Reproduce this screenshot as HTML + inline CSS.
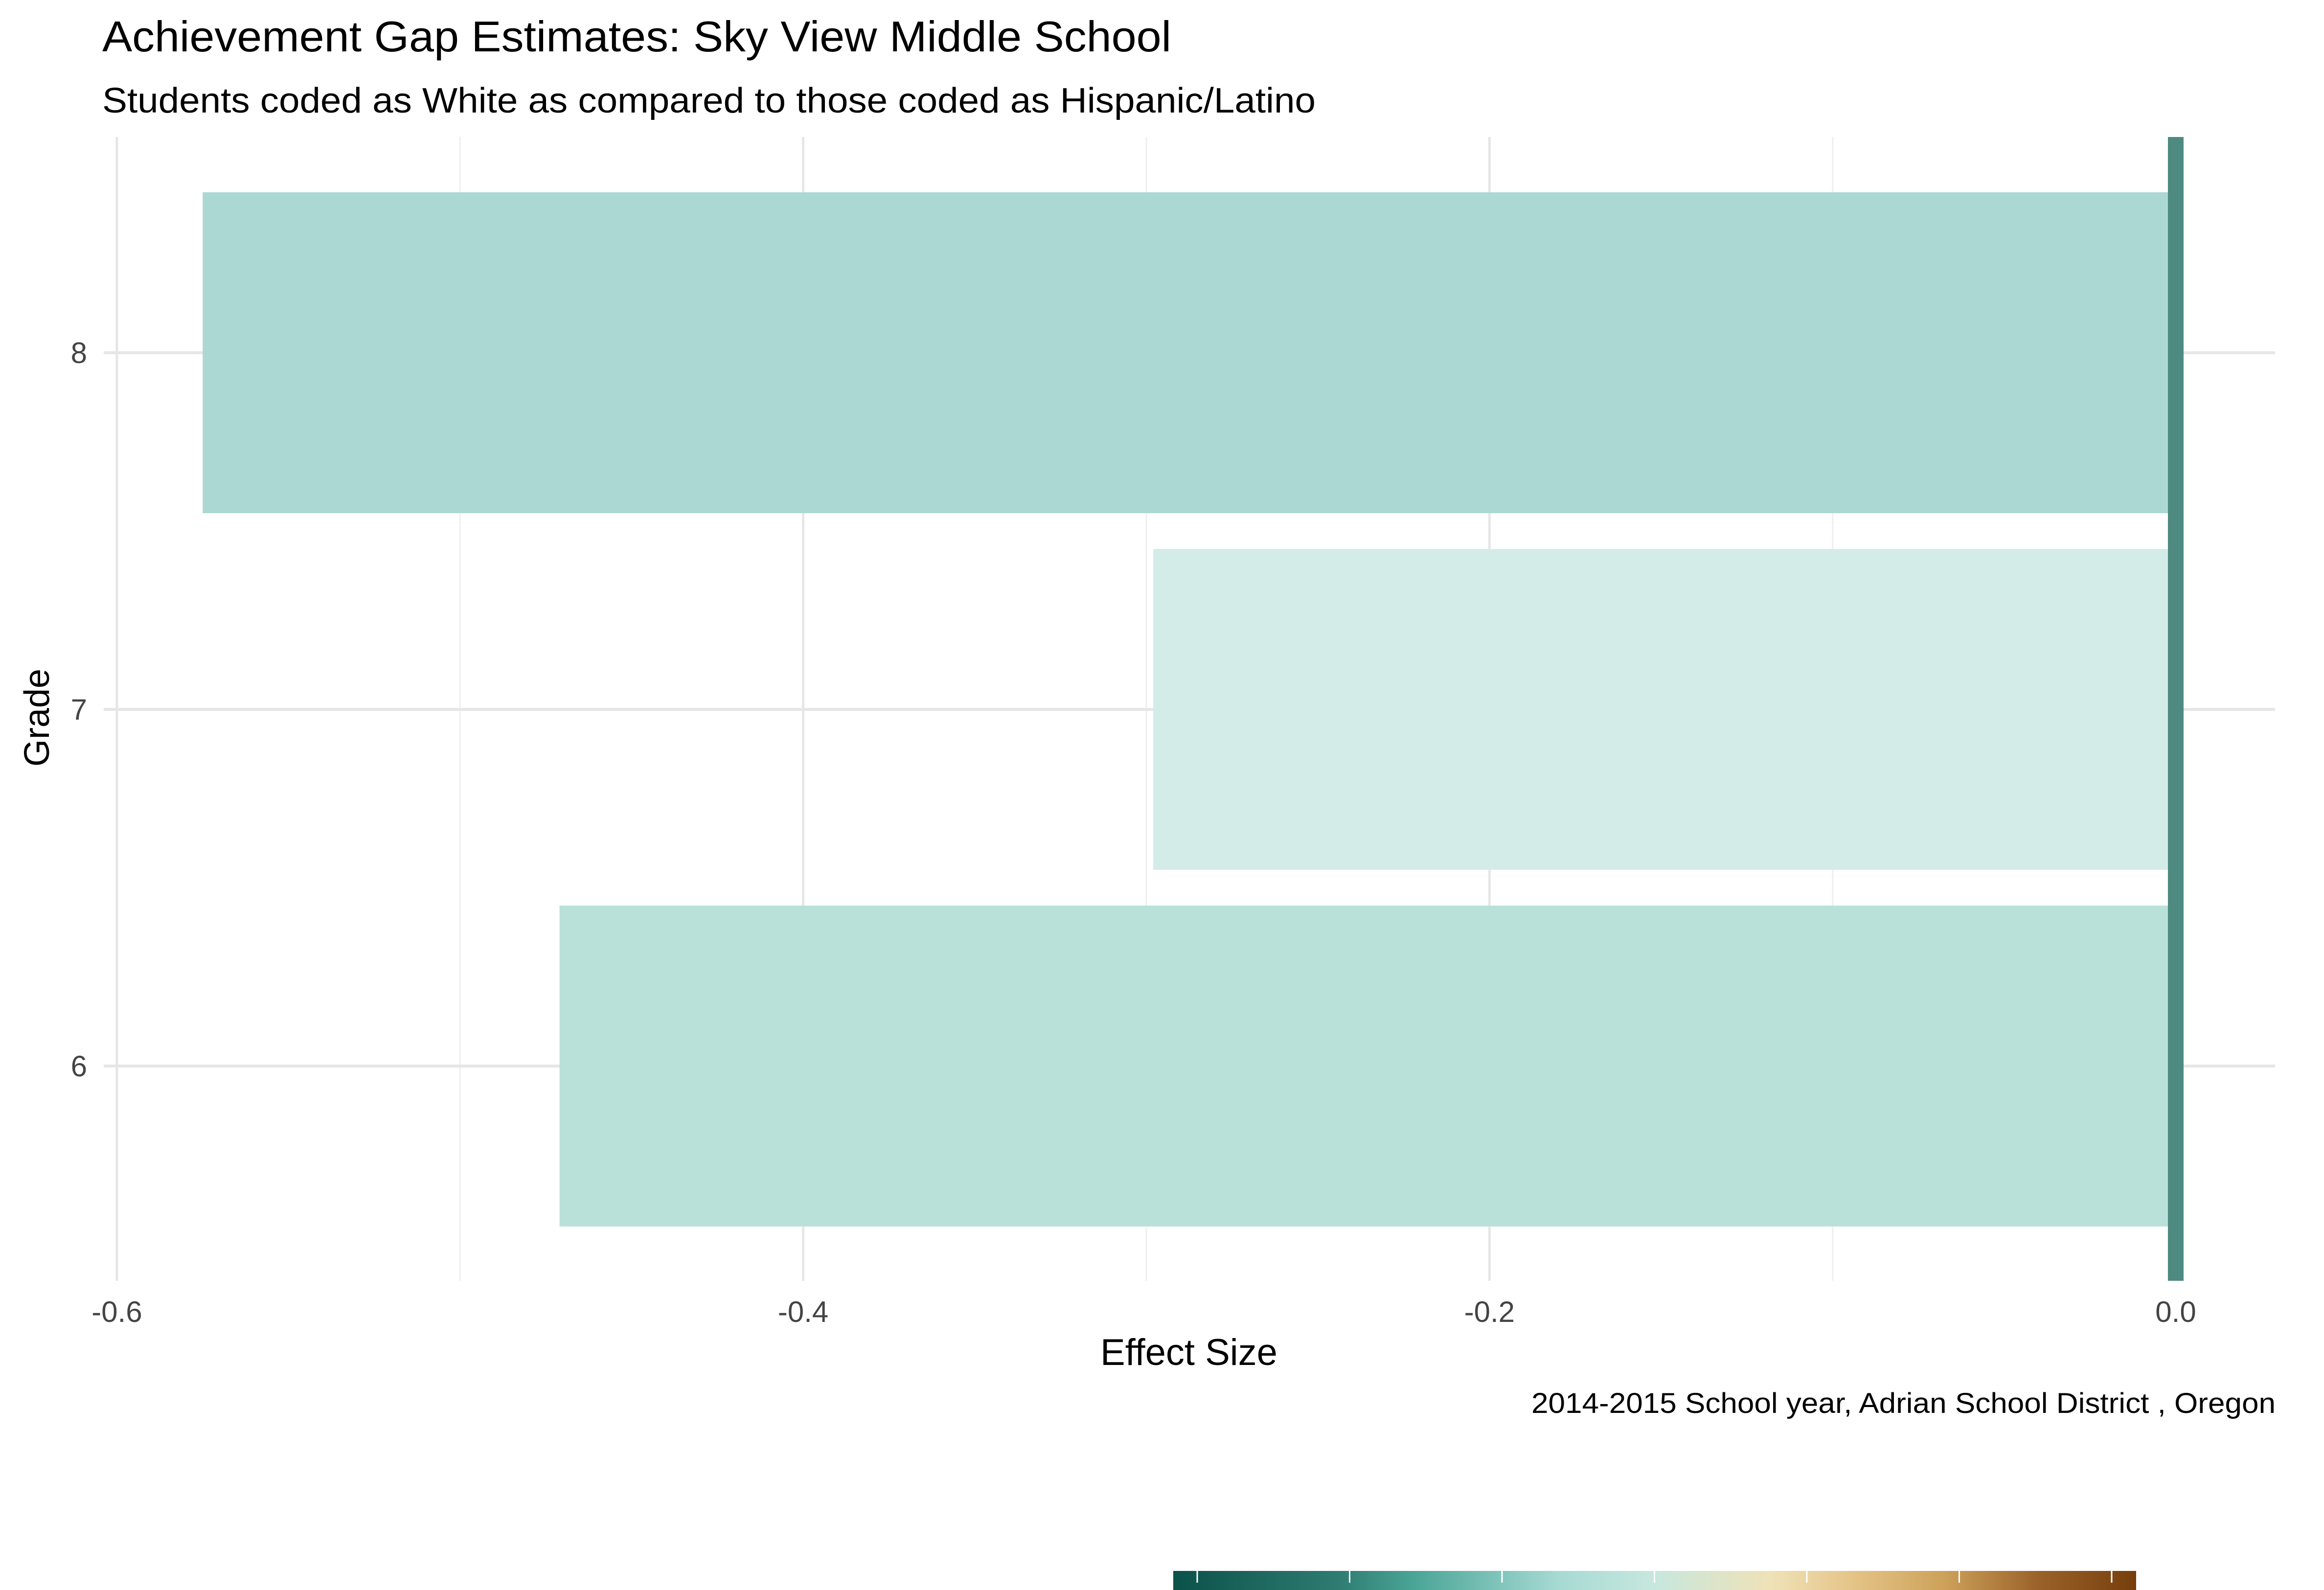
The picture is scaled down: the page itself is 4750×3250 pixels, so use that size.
<!DOCTYPE html>
<html><head><meta charset="utf-8"><style>html,body{margin:0;padding:0;background:#fff}svg{display:block}text{font-family:"Liberation Sans",sans-serif}</style></head>
<body>
<svg id="chart" width="4750" height="3250" viewBox="0 0 4750 3250" xmlns="http://www.w3.org/2000/svg">
<rect width="4750" height="3250" fill="#fff"/>
<text x="209" y="105" font-size="88" fill="#000" textLength="2185" lengthAdjust="spacingAndGlyphs">Achievement Gap Estimates: Sky View Middle School</text>
<text x="209" y="230" font-size="72" fill="#000" textLength="2480" lengthAdjust="spacingAndGlyphs">Students coded as White as compared to those coded as Hispanic/Latino</text>
<g id="grid"></g><g id="bars"></g><g id="axes"></g>
<text x="2430" y="2790" font-size="76" text-anchor="middle" fill="#000">Effect Size</text>
<text transform="translate(100,1467) rotate(-90)" font-size="72" text-anchor="middle" fill="#000">Grade</text>
<text x="3130" y="2888" font-size="58" fill="#000" textLength="1521" lengthAdjust="spacingAndGlyphs">2014-2015 School year,  Adrian School District , Oregon</text>
<defs><linearGradient id="brbg" x1="0" x2="1" y1="0" y2="0">
<stop offset="0" stop-color="#0b5249"/><stop offset="0.17" stop-color="#2e7b71"/><stop offset="0.25" stop-color="#4aa597"/><stop offset="0.4" stop-color="#a6dad3"/><stop offset="0.5" stop-color="#c7e7de"/><stop offset="0.62" stop-color="#efe2b7"/><stop offset="0.7" stop-color="#e6c68b"/><stop offset="0.8" stop-color="#cda25a"/><stop offset="0.9" stop-color="#9a6129"/><stop offset="1" stop-color="#763e0c"/></linearGradient></defs>
<rect x="2398" y="3211" width="1968" height="39" fill="url(#brbg)"/>
<g id="cbticks"></g>
</svg>
<script>
const grades = ["6","7","8"];
const effects = [-0.471, -0.298, -0.575];
const barColors = ["#b9e0d9","#d4ece7","#acd8d3"];
const xTicks = [-0.6,-0.4,-0.2,0.0];
const xTickLabels = ["-0.6","-0.4","-0.2","0.0"];
const xMinor = [-0.5,-0.3,-0.1];
const cbTicks = [0,1,2,3,4,5,6];

const NS="http://www.w3.org/2000/svg";
const xs = v => 4447 + v*7013.5;
const ys = i => 2179 - i*729;
const pTop=280, pBot=2618, pLeft=212, pRight=4650;
function mk(tag, attrs, parent){const e=document.createElementNS(NS,tag);for(const k in attrs)e.setAttribute(k,attrs[k]);parent.appendChild(e);return e;}
const grid=document.getElementById('grid'), bars=document.getElementById('bars'), axes=document.getElementById('axes');
xMinor.forEach(v=>{const l=mk('line',{x1:xs(v),x2:xs(v),y1:pTop,y2:pBot,stroke:'#efefef','stroke-width':3},grid);

});
xTicks.forEach((v,i)=>{const l=mk('line',{x1:xs(v),x2:xs(v),y1:pTop,y2:pBot,stroke:'#e6e6e6','stroke-width':5},grid);


const t=mk('text',{x:xs(v),y:2702,'font-size':60,'text-anchor':'middle',fill:'#444'},axes);t.textContent=xTickLabels[i];

});
grades.forEach((g,i)=>{const l=mk('line',{x1:pLeft,x2:pRight,y1:ys(i),y2:ys(i),stroke:'#e6e6e6','stroke-width':6},grid);


const t=mk('text',{x:178,y:ys(i)+21,'font-size':60,'text-anchor':'end',fill:'#444'},axes);t.textContent=g;


const v=effects[i];const b=mk('rect',{x:Math.min(xs(v),xs(0)),y:ys(i)-328,width:Math.abs(xs(v)-xs(0)),height:656,fill:barColors[i]},bars);

});
const zl=mk('line',{x1:xs(0),x2:xs(0),y1:pTop,y2:pBot,stroke:'#4e8a80','stroke-width':32},bars);


const cb=document.getElementById('cbticks');
cbTicks.forEach(k=>{const xx=2447+k*311.5;const l=mk('line',{x1:xx,x2:xx,y1:3211,y2:3235,stroke:'#fff','stroke-width':3},cb);

});
</script>
</body></html>
